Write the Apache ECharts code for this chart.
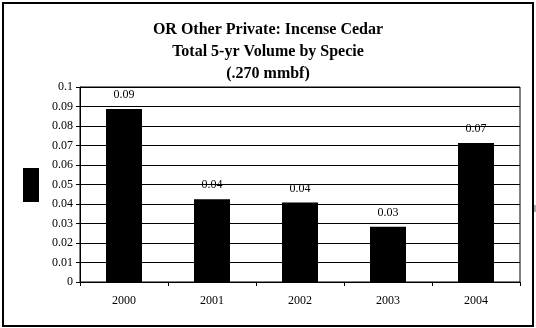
<!DOCTYPE html>
<html>
<head>
<meta charset="utf-8">
<script src="https://cdn.jsdelivr.net/npm/echarts@6/dist/echarts.min.js"></script>
<style>
html,body{margin:0;padding:0;background:#fff;}
#chart{width:536px;height:328px;}
</style>
</head>
<body>
<div id="chart"></div>
<script>
var titleLines = ['OR Other Private: Incense Cedar', 'Total 5-yr Volume by Specie', '(.270 mmbf)'];
var categories = ['2000', '2001', '2002', '2003', '2004'];
var volumes = [0.0887, 0.0424, 0.0408, 0.0283, 0.0713];

var serif = 'Liberation Serif, Times New Roman, serif';
var chart = echarts.init(document.getElementById('chart'));
chart.setOption({
  animation: false,
  backgroundColor: '#fff',
  title: {
    text: titleLines.join('\n'),
    left: 'center',
    top: 14,
    textStyle: {fontFamily: serif, fontWeight: 'bold', fontSize: 16, lineHeight: 22, color: '#000'}
  },
  graphic: [
    {type: 'rect', shape: {x: 3, y: 3, width: 530, height: 323}, style: {fill: 'none', stroke: '#000', lineWidth: 2}, z: 10},
    {type: 'rect', shape: {x: 23, y: 168, width: 16, height: 34}, style: {fill: '#000'}, z: 10},
    {type: 'rect', shape: {x: 534, y: 205, width: 2, height: 7}, style: {fill: '#aaa'}, z: 10}
  ],
  grid: {left: 80, right: 16, top: 87, bottom: 46, show: true, borderColor: '#000', borderWidth: 1, backgroundColor: 'transparent'},
  xAxis: {
    type: 'category',
    data: categories,
    axisLine: {lineStyle: {color: '#000', width: 1}},
    axisTick: {show: true, length: 4, lineStyle: {color: '#000'}},
    axisLabel: {fontFamily: serif, fontSize: 12, color: '#000', margin: 13}
  },
  yAxis: {
    type: 'value',
    min: 0, max: 0.1, interval: 0.01,
    axisLine: {show: true, lineStyle: {color: '#000', width: 1}},
    axisTick: {show: true, length: 4, lineStyle: {color: '#000'}},
    axisLabel: {fontFamily: serif, fontSize: 12, color: '#000', margin: 7},
    splitLine: {show: true, lineStyle: {color: '#000', width: 1}}
  },
  series: [{
    type: 'bar',
    data: volumes,
    barWidth: 36,
    itemStyle: {color: '#000'},
    label: {
      show: true, position: 'top', distance: 8,
      fontFamily: serif, fontSize: 12, color: '#000',
      formatter: function (p) { return p.value.toFixed(2); }
    }
  }]
});
</script>
</body>
</html>
